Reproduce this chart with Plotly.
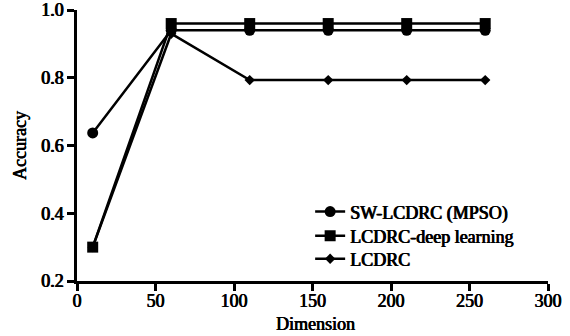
import plotly.graph_objects as go

dimension = [10, 60, 110, 160, 210, 260]
sw_lcdrc_mpso = [0.637, 0.94, 0.94, 0.94, 0.94, 0.94]
lcdrc_deep = [0.30, 0.96, 0.96, 0.96, 0.96, 0.96]
lcdrc = [0.30, 0.93, 0.793, 0.793, 0.793, 0.793]

x_ticks = [0, 50, 100, 150, 200, 250, 300]
y_ticks = [0.2, 0.4, 0.6, 0.8, 1.0]
y_tick_text = ["0.2", "0.4", "0.6", "0.8", "1.0"]

font_family = "Liberation Serif"
heavy = "0.5px 0 0 black, -0.3px 0 0 black"

fig = go.Figure()
fig.add_trace(go.Scatter(x=dimension, y=lcdrc, name="LCDRC", mode="lines+markers",
                         line=dict(color="black", width=2.5), legend="legend3",
                         marker=dict(symbol="diamond", size=8, color="black")))
fig.add_trace(go.Scatter(x=dimension, y=sw_lcdrc_mpso, name="SW-LCDRC (MPSO)", mode="lines+markers",
                         line=dict(color="black", width=2.5), legend="legend",
                         marker=dict(symbol="circle", size=11, color="black")))
fig.add_trace(go.Scatter(x=dimension, y=lcdrc_deep, name="LCDRC-deep learning", mode="lines+markers",
                         line=dict(color="black", width=2.5), legend="legend2",
                         marker=dict(symbol="square", size=11, color="black")))

legend_style = dict(x=0.495, xanchor="left", yanchor="middle", bgcolor="rgba(0,0,0,0)",
                    font=dict(size=18, family=font_family, shadow=heavy), itemwidth=30)

fig.update_layout(
    width=570, height=336,
    margin=dict(l=77, r=22, t=10, b=55),
    paper_bgcolor="white", plot_bgcolor="white",
    font=dict(family=font_family, color="black", size=18),
    legend=dict(y=0.255, **legend_style),
    legend2=dict(y=0.166, **legend_style),
    legend3=dict(y=0.081, **legend_style),
    showlegend=True,
    annotations=[dict(text="Dimension", xref="paper", yref="paper", x=0.507, y=-0.157,
                      xanchor="center", yanchor="middle", showarrow=False,
                      font=dict(size=18, family=font_family, shadow=heavy))],
)

fig.update_xaxes(range=[0, 300], tickvals=x_ticks, automargin=False,
                 showline=True, linecolor="black", ticklabelstandoff=-5,
                 linewidth=2.5, ticks="outside", ticklen=7, tickwidth=2.5, tickcolor="black",
                 showgrid=False, zeroline=False,
                 tickfont=dict(size=18, family=font_family, shadow=heavy))
fig.update_yaxes(range=[0.2, 1.0], tickvals=y_ticks, ticktext=y_tick_text, automargin=False,
                 showline=True,
                 linecolor="black", linewidth=2.5, ticks="outside", ticklen=7, tickwidth=2.5,
                 tickcolor="black", showgrid=False, zeroline=False,
                 tickfont=dict(size=18, family=font_family, shadow=heavy),
                 title=dict(text="Accuracy", font=dict(size=18, family=font_family, shadow=heavy), standoff=10))

fig.write_html("out.html")
